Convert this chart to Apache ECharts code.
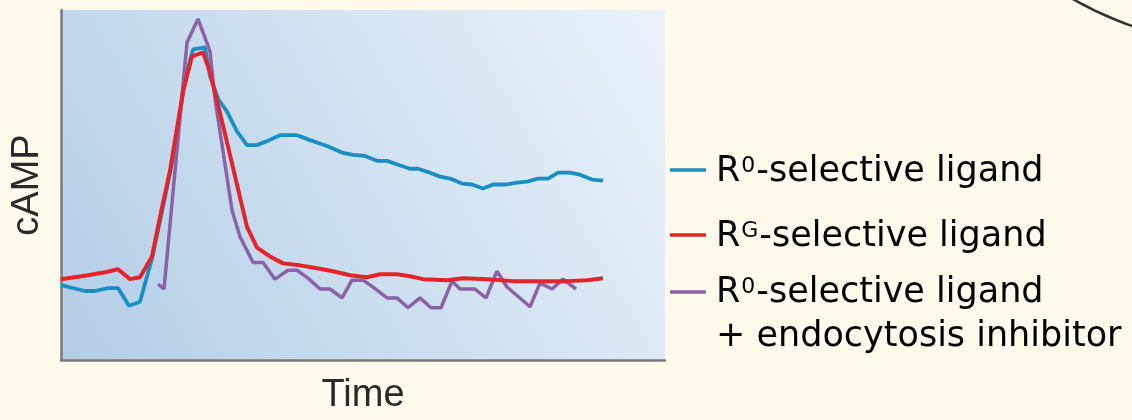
<!DOCTYPE html>
<html><head><meta charset="utf-8">
<script src="https://cdn.jsdelivr.net/npm/echarts@6/dist/echarts.min.js"></script>
<style>html,body{margin:0;padding:0;background:#fffaec;}#c{width:1132px;height:420px;}</style>
</head><body><div id="c"></div>
<script>
// Time (arbitrary units) and cAMP (arbitrary units)
const blueTime = [0,24,34,47,57,68,79,91,102,114,124,132,144,149,157,166,176,186,196,206,219,236,249,266,282,292,304,316,326,337,349,357,369,379,389,401,411,422,432,444,456,466,477,487,497,509,519,531,542];
const blueCamp = [76,70,70,73,73,55,59,103,155,215,285,315,317,288,265,252,232,218,218,222,228,228,223,217,210,208,207,202,202,198,194,194,190,186,184,179,178,174,178,178,180,181,184,184,190,190,188,183,182];

const redTime = [0,27,44,57,69,79,91,99,109,122,131,142,149,162,176,186,196,209,222,239,256,272,289,306,319,336,349,362,386,402,426,452,479,506,526,542];
const redCamp = [82,86,89,92,82,84,105,145,192,272,308,312,292,238,178,135,114,105,98,96,93,90,86,84,87,87,85,82,81,83,82,80,80,80,81,83];

const purpleTime = [97,103,126,137,149,154,171,179,192,202,214,227,236,247,259,269,281,291,302,312,326,336,347,359,370,380,391,399,414,425,436,446,469,479,491,502,515];
const purpleCamp = [77,72,322,346,313,265,152,125,99,99,82,91,91,83,72,72,63,81,81,74,63,63,53,63,53,53,80,72,72,63,90,74,54,78,72,82,72];

const seriesNames = ['R0-selective ligand', 'RG-selective ligand', 'R0-selective ligand + endocytosis inhibitor'];
const legendLabels = [
  '{n|R}{s|0}{n|-selective ligand}',
  '{n|R}{s|G}{n|-selective ligand}',
  '{n|R}{s|0}{n|-selective ligand}\n{n|+ endocytosis inhibitor}'
];
const xAxisName = 'Time';
const yAxisName = 'cAMP';
const xRange = [0, 604];
const yRange = [0, 355];

const colors = ['#1a8fc2', '#e3242b', '#8b62a6'];
const zip = (a, b) => a.map((v, i) => [v, b[i]]);

const chart = echarts.init(document.getElementById('c'), null, {renderer: 'canvas'});

const legendRowY = [172, 237, 293];
const markerY = [170, 235, 292];
const legendGraphics = [];
legendLabels.forEach((lab, i) => {
  legendGraphics.push({
    type: 'line', shape: {x1: 670, y1: markerY[i], x2: 706, y2: markerY[i]},
    style: {stroke: colors[i], lineWidth: 3.5}, silent: true
  });
  legendGraphics.push({
    type: 'text', x: 716, y: legendRowY[i] - 22,
    style: {
      text: lab, verticalAlign: 'top', align: 'left',
      rich: {
        n: {fontSize: 35, fontFamily: 'DejaVu Sans', color: '#242424', lineHeight: 44},
        s: {fontSize: 22, fontFamily: 'DejaVu Sans', color: '#242424', lineHeight: 22, verticalAlign: 'top', padding: [5, 1, 0, 1]}
      }
    }, silent: true
  });
});

const option = {
  animation: false,
  backgroundColor: '#fffaec',
  grid: {
    left: 61, top: 10, width: 604, height: 355, show: true, borderWidth: 0,
    backgroundColor: new echarts.graphic.LinearGradient(0, 1, 1, 0, [
      {offset: 0, color: '#b3cee7'}, {offset: 1, color: '#ebf3fa'}
    ])
  },
  xAxis: {
    type: 'value', min: xRange[0], max: xRange[1],
    axisLine: {show: true, lineStyle: {color: '#7b7b7b', width: 2.5}},
    axisTick: {show: false}, axisLabel: {show: false}, splitLine: {show: false},
    name: xAxisName, nameLocation: 'middle', nameGap: 17,
    nameTextStyle: {fontSize: 38, fontFamily: 'Liberation Sans', color: '#2a2a2a'}
  },
  yAxis: {
    type: 'value', min: yRange[0], max: yRange[1],
    axisLine: {show: true, lineStyle: {color: '#7b7b7b', width: 2.5}},
    axisTick: {show: false}, axisLabel: {show: false}, splitLine: {show: false},
    name: yAxisName, nameLocation: 'middle', nameGap: 14,
    nameTextStyle: {fontSize: 38, fontFamily: 'Liberation Sans', color: '#2a2a2a'}
  },
  series: [
    {name: seriesNames[0], type: 'line', data: zip(blueTime, blueCamp), showSymbol: false, z: 2,
     lineStyle: {color: colors[0], width: 3.8}, itemStyle: {color: colors[0]}},
    {name: seriesNames[2], type: 'line', data: zip(purpleTime, purpleCamp), showSymbol: false, z: 3,
     lineStyle: {color: colors[2], width: 3.5}, itemStyle: {color: colors[2]}},
    {name: seriesNames[1], type: 'line', data: zip(redTime, redCamp), showSymbol: false, z: 4,
     lineStyle: {color: colors[1], width: 4}, itemStyle: {color: colors[1]}}
  ],
  graphic: [
    {type: 'circle', shape: {cx: 1245, cy: -300, r: 345}, style: {fill: 'none', stroke: '#333333', lineWidth: 2.5}, silent: true}
  ].concat(legendGraphics)
};
chart.setOption(option);
</script>
</body></html>
